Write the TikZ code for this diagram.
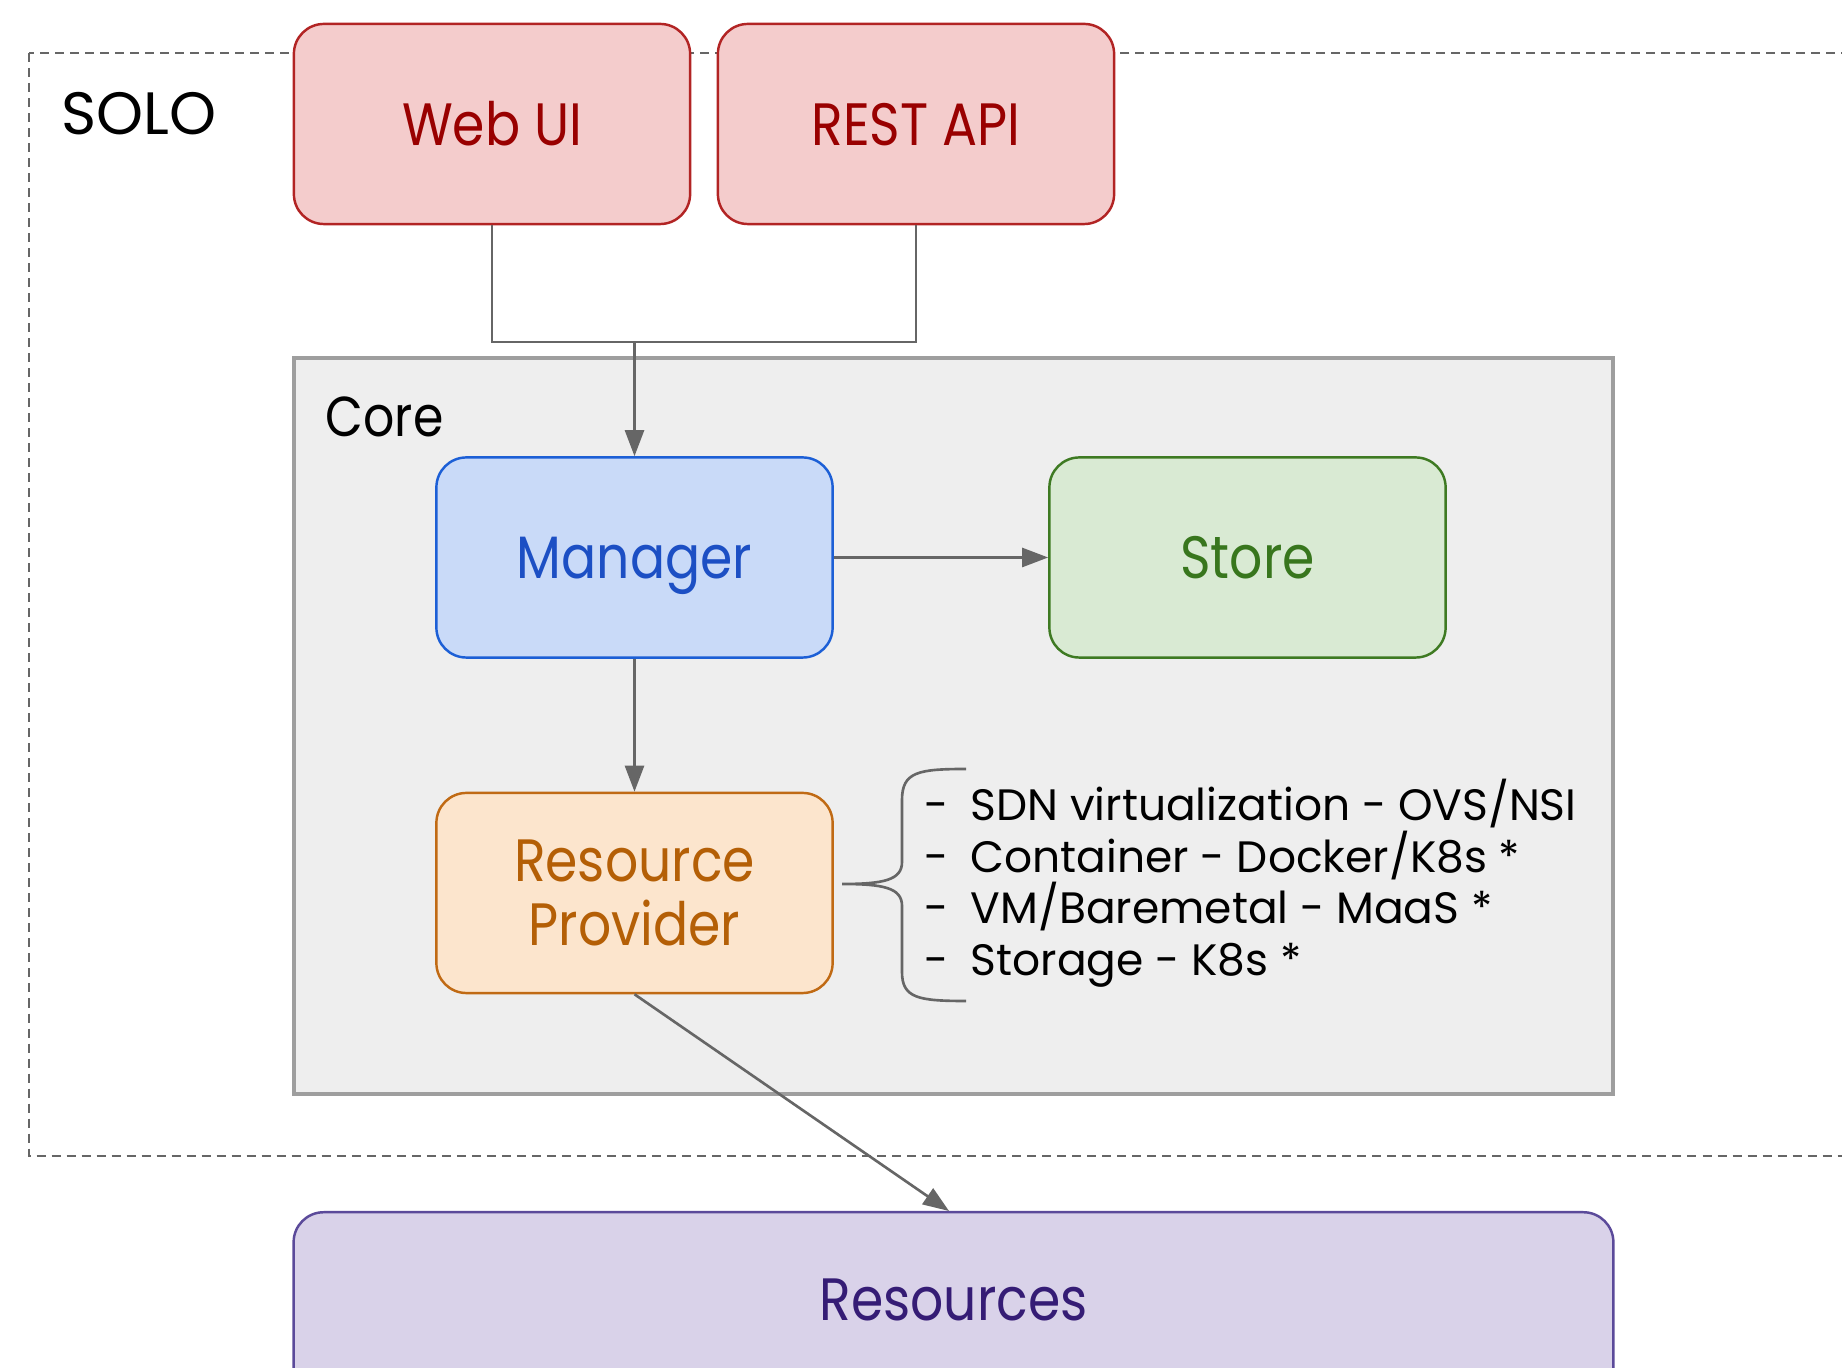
\documentclass[tikz,border=0pt]{standalone}
\usepackage{fontspec}
\setmainfont{Poppins}
\newfontfamily\labelfont[FakeStretch=0.87]{Poppins}
\usetikzlibrary{arrows.meta}

\definecolor{redfill}{HTML}{F4CCCC}
\definecolor{redline}{HTML}{B22424}
\definecolor{redtext}{HTML}{990000}
\definecolor{bluefill}{HTML}{C9DAF8}
\definecolor{blueline}{HTML}{1C5FD6}
\definecolor{bluetext}{HTML}{1C4FC4}
\definecolor{greenfill}{HTML}{D9EAD3}
\definecolor{greenline}{HTML}{3E7A22}
\definecolor{greentext}{HTML}{38761D}
\definecolor{orangefill}{HTML}{FCE5CD}
\definecolor{orangeline}{HTML}{C06A14}
\definecolor{orangetext}{HTML}{B45F06}
\definecolor{purplefill}{HTML}{D9D2E9}
\definecolor{purpleline}{HTML}{5B4A9A}
\definecolor{purpletext}{HTML}{351C75}
\definecolor{corefill}{HTML}{EEEEEE}
\definecolor{coreline}{HTML}{9E9E9E}
\definecolor{wire}{HTML}{666666}

\tikzset{
  block/.style={draw, line width=0.7pt, rounded corners=0.3cm,
    minimum width=3.96cm, minimum height=2.0cm, align=center,
    font=\labelfont\fontsize{17}{21}\selectfont, inner sep=0pt},
  oneline/.style={text height=12pt, text depth=0pt},
  wireline/.style={draw=wire, line width=0.75pt},
  flow/.style={wireline, -{Triangle[length=0.26cm,width=0.19cm]}},
  listitem/.style={anchor=base west, inner sep=0pt, font=\fontsize{12.5}{15}\selectfont}
}

\begin{document}
\begin{tikzpicture}[x=0.01cm,y=-0.01cm]
\useasboundingbox (0,0) rectangle (1842,1368);

% outer dashed frame, running off the right edge
\draw[wire, line width=0.8pt, dash pattern=on 0.09cm off 0.06cm] (29,53) rectangle (1900,1156);
\node[anchor=west, inner sep=0pt, font=\fontsize{17}{21}\selectfont] (solo) at (61,114) {SOLO};

% core container
\draw[fill=corefill, draw=coreline, line width=1pt] (294,358) rectangle (1613,1094);
\node[anchor=west, inner sep=0pt, font=\labelfont\fontsize{16}{20}\selectfont] (core) at (325,417) {Core};

% front ends
\node[block, oneline, fill=redfill, draw=redline, text=redtext] (webui) at (492,124) {Web UI};
\node[block, oneline, fill=redfill, draw=redline, text=redtext] (rest) at (916,124) {REST API};

% core components
\node[block, oneline, fill=bluefill, draw=blueline, text=bluetext] (manager) at (634.5,557.5) {Manager};
\node[block, oneline, fill=greenfill, draw=greenline, text=greentext] (store) at (1247.5,557.5) {Store};
\node[block, fill=orangefill, draw=orangeline, text=orangetext] (provider) at (634.5,893) {Resource\\[-3pt]Provider};

% resources, running off the bottom edge
\node[block, fill=purplefill, draw=purpleline, minimum width=13.19cm,
  minimum height=2.2cm, anchor=north] (resources) at (953.5,1211) {};
\node[text=purpletext, font=\labelfont\fontsize{17}{21}\selectfont] (reslabel) at (953.5,1300) {Resources};

% joined connector from both front ends into the manager
\coordinate (join) at (634.5,342);
\draw[wireline] (webui.south) |- (rest.south |- join) -- (rest.south);
\draw[flow] (join) -- (manager.north);
\draw[flow] (manager.east) -- (store.west);
\draw[flow] (manager.south) -- (provider.north);
\coordinate (resin) at (949,1211);
\draw[flow] (provider.south) -- (resin);

% brace and provider list
\draw[wireline] (966,769) .. controls (918,769) and (902,772) .. (902,800) -- (902,862)
  .. controls (902,880) and (884,884) .. (842,884)
  .. controls (884,884) and (902,888) .. (902,906) -- (902,972)
  .. controls (902,998) and (918,1001) .. (966,1001);

\node[listitem] (dash1) at (924,821) {-};
\node[listitem] (item1) at (970,821) {SDN virtualization - OVS/NSI};
\node[listitem] (dash2) at (924,873) {-};
\node[listitem] (item2) at (970,873) {Container - Docker/K8s *};
\node[listitem] (dash3) at (924,924) {-};
\node[listitem] (item3) at (970,924) {VM/Baremetal - MaaS *};
\node[listitem] (dash4) at (924,976) {-};
\node[listitem] (item4) at (970,976) {Storage - K8s *};
\end{tikzpicture}
\end{document}
